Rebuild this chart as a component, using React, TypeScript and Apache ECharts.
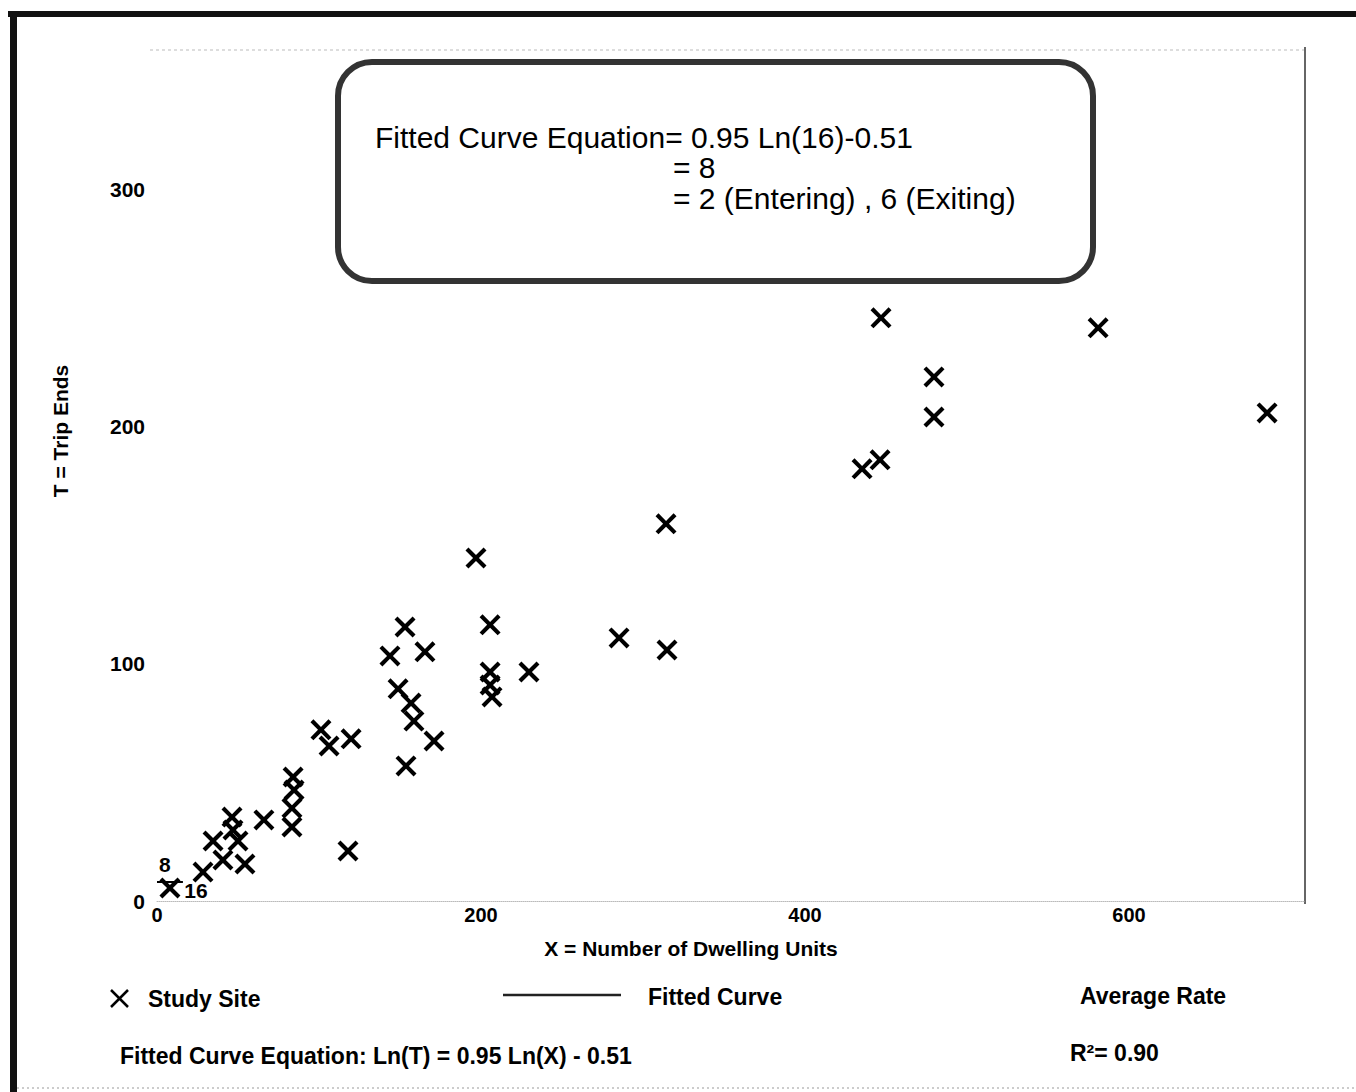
import React, { useEffect, useRef } from "react";
import * as echarts from "echarts";

// Dwelling units (X) and trip ends (T) of the study sites
const studyX = [446.9, 580.9, 479.6, 479.6, 685.2, 435.2, 446.3, 314.2, 196.9, 205.6, 285.2, 314.8, 229.6, 205.6, 205.6, 206.8, 153.1, 143.8, 165.4, 148.8, 156.8, 158.6, 171.0, 153.7, 101.2, 106.2, 119.8, 117.9, 84.0, 84.6, 83.3, 83.3, 66.0, 46.3, 46.9, 34.6, 50.0, 40.7, 54.3, 28.4, 8.0];
const studyT = [246.0, 241.8, 221.1, 204.2, 205.9, 182.3, 186.1, 159.1, 144.7, 116.5, 111.0, 105.9, 96.6, 96.6, 91.1, 86.1, 115.6, 103.4, 105.1, 89.5, 83.5, 75.9, 67.5, 57.0, 72.2, 65.4, 68.4, 21.1, 52.3, 46.8, 39.2, 31.2, 34.2, 35.4, 30.0, 25.3, 25.3, 17.3, 15.6, 12.2, 5.5];

const xTickLabels = [0, 200, 400, 600];
const yTickLabels = [0, 100, 200, 300];

// Estimate at 16 dwelling units
const estimateUnits = 16;
const estimateTrips = 8;

const boxLines = [
  "Fitted Curve Equation= 0.95 Ln(16)-0.51",
  "= 8",
  "= 2 (Entering) , 6 (Exiting)",
];

const FONT = "Liberation Sans, Arial, sans-serif";
const X_SYMBOL =
  "path://M0,14 L14,0 L50,36 L86,0 L100,14 L64,50 L100,86 L86,100 L50,64 L14,100 L0,86 L36,50 Z";

export default function App() {
  const ref = useRef<HTMLDivElement>(null);

  useEffect(() => {
    if (!ref.current) return;
    const chart = echarts.init(ref.current, null, { renderer: "svg" });
    const points = studyX.map((x, i) => [x, studyT[i]]);

    chart.setOption({
      animation: false,
      backgroundColor: "#ffffff",
      grid: { left: 157, right: 51, top: 50, bottom: 191, show: false },
      xAxis: {
        type: "value",
        min: 0,
        max: 708.6,
        interval: 200,
        axisLine: { show: true, lineStyle: { color: "#bbb", width: 1, type: "dotted" } },
        axisTick: { show: false },
        splitLine: { show: false },
        axisLabel: {
          margin: 4,
          fontFamily: FONT,
          fontSize: 20,
          fontWeight: "bold",
          color: "#000",
          showMaxLabel: false,
          formatter: (v: number) => (xTickLabels.includes(v) ? String(v) : ""),
        },
      },
      yAxis: {
        type: "value",
        min: 0,
        max: 359,
        interval: 100,
        axisLine: { show: false },
        axisTick: { show: false },
        splitLine: { show: false },
        axisLabel: {
          margin: 12,
          fontFamily: FONT,
          fontSize: 21,
          fontWeight: "bold",
          color: "#000",
          showMaxLabel: false,
          formatter: (v: number) => (yTickLabels.includes(v) ? String(v) : ""),
        },
      },
      series: [
        {
          name: "Study Site",
          type: "scatter",
          symbol: X_SYMBOL,
          symbolSize: 21,
          itemStyle: { color: "#000", opacity: 1 },
          data: points,
          markLine: {
            silent: true,
            symbol: "none",
            label: { show: false },
            lineStyle: { color: "#000", width: 2, type: "solid", opacity: 1 },
            data: [[{ coord: [0, estimateTrips] }, { coord: [estimateUnits, estimateTrips] }]],
          },
        },
        {
          name: "annotations",
          type: "scatter",
          symbolSize: 0,
          silent: true,
          itemStyle: { opacity: 1, color: "#000" },
          data: [
            { value: [4.9, 15.2], label: { formatter: String(estimateTrips) } },
            { value: [24, 4.6], label: { formatter: String(estimateUnits) } },
          ],
          label: {
            show: true,
            position: "inside",
            fontFamily: FONT,
            fontSize: 21,
            fontWeight: "bold",
            color: "#000",
          },
        },
      ],
      graphic: [
        // outer frame
        { type: "rect", shape: { x: 8, y: 11, width: 1348, height: 6 }, style: { fill: "#111" } },
        { type: "rect", shape: { x: 10, y: 11, width: 7, height: 1081 }, style: { fill: "#111" } },
        { type: "line", shape: { x1: 17, y1: 1088, x2: 1356, y2: 1088 }, style: { stroke: "#999", lineWidth: 1, lineDash: [2, 3] } },
        // plot borders
        { type: "line", shape: { x1: 150, y1: 50, x2: 1305, y2: 50 }, style: { stroke: "#bbb", lineWidth: 1, lineDash: [3, 3] } },
        { type: "line", shape: { x1: 1305, y1: 47, x2: 1305, y2: 904 }, style: { stroke: "#666", lineWidth: 2 } },
        // axis titles
        {
          type: "text",
          x: 60,
          y: 431,
          rotation: Math.PI / 2,
          style: { text: "T = Trip Ends", x: 0, y: 0, font: `bold 21px ${FONT}`, fill: "#000", textAlign: "center", textVerticalAlign: "middle" },
        },
        {
          type: "text",
          style: { text: "X = Number of Dwelling Units", x: 691, y: 948, font: `bold 21px ${FONT}`, fill: "#000", textAlign: "center", textVerticalAlign: "middle" },
        },
        // equation box
        {
          type: "rect",
          shape: { x: 338, y: 62, width: 755, height: 219, r: 34 },
          style: { fill: "#ffffff", stroke: "#333", lineWidth: 6 },
        },
        { type: "text", style: { text: boxLines[0], x: 375, y: 137, font: `30px ${FONT}`, lineHeight: 27, fill: "#000", textVerticalAlign: "middle" } },
        { type: "text", style: { text: boxLines[1], x: 673, y: 167, font: `30px ${FONT}`, lineHeight: 27, fill: "#000", textVerticalAlign: "middle" } },
        { type: "text", style: { text: boxLines[2], x: 673, y: 198, font: `30px ${FONT}`, lineHeight: 27, fill: "#000", textVerticalAlign: "middle" } },
        // legend
        { type: "line", shape: { x1: 111, y1: 990, x2: 128, y2: 1007 }, style: { stroke: "#000", lineWidth: 2.5 } },
        { type: "line", shape: { x1: 128, y1: 990, x2: 111, y2: 1007 }, style: { stroke: "#000", lineWidth: 2.5 } },
        { type: "text", style: { text: "Study Site", x: 148, y: 999, font: `bold 23px ${FONT}`, fill: "#000", textVerticalAlign: "middle" } },
        { type: "line", shape: { x1: 503, y1: 995, x2: 621, y2: 995 }, style: { stroke: "#222", lineWidth: 2.5 } },
        { type: "text", style: { text: "Fitted Curve", x: 648, y: 997, font: `bold 23px ${FONT}`, fill: "#000", textVerticalAlign: "middle" } },
        { type: "text", style: { text: "Average Rate", x: 1080, y: 996, font: `bold 23px ${FONT}`, fill: "#000", textVerticalAlign: "middle" } },
        { type: "text", style: { text: "Fitted Curve Equation: Ln(T) = 0.95 Ln(X) - 0.51", x: 120, y: 1056, font: `bold 23px ${FONT}`, fill: "#000", textVerticalAlign: "middle" } },
        { type: "text", style: { text: "R²= 0.90", x: 1070, y: 1053, font: `bold 23px ${FONT}`, fill: "#000", textVerticalAlign: "middle" } },
      ],
    });

    return () => chart.dispose();
  }, []);

  return (
    <div
      ref={ref}
      style={{ position: "absolute", left: 0, top: 0, width: 1356, height: 1092 }}
    />
  );
}
